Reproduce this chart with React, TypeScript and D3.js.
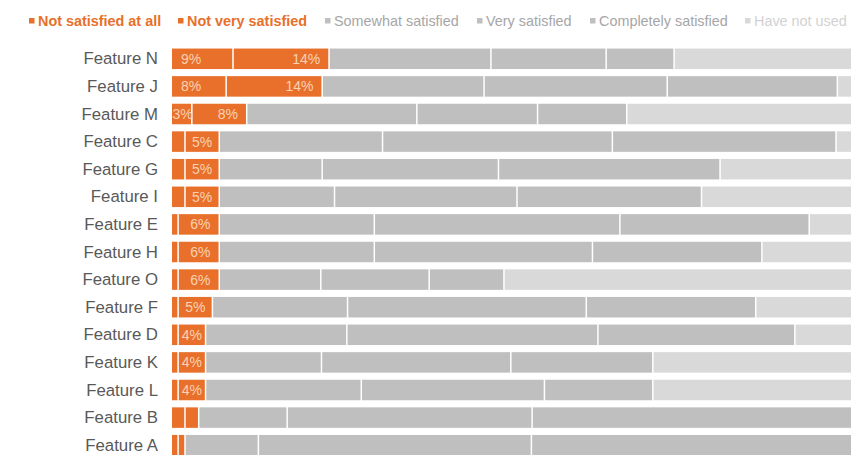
import React from "react";
import * as d3 from "d3";

const features = ["Feature N","Feature J","Feature M","Feature C","Feature G","Feature I","Feature E","Feature H","Feature O","Feature F","Feature D","Feature K","Feature L","Feature B","Feature A"];
const notAtAll = [9, 8, 3, 2, 2, 2, 1, 1, 1, 1, 1, 1, 1, 2, 1];
const notVery = [14, 14, 8, 5, 5, 5, 6, 6, 6, 5, 4, 4, 4, 2, 1];
const somewhat = [23.6, 23.6, 24.8, 23.8, 15.0, 16.8, 22.6, 22.6, 14.8, 19.7, 20.6, 16.9, 22.7, 12.9, 10.7];
const very = [16.8, 26.7, 17.6, 33.5, 25.7, 26.6, 35.8, 31.8, 15.8, 34.8, 36.6, 27.6, 26.7, 35.7, 39.8];
const completely = [9.9, 24.8, 13.0, 32.6, 32.3, 26.9, 27.6, 24.7, 10.9, 24.7, 28.7, 20.7, 15.8, 47.5, 47.5];
const notUsed = [26.8, 3.1, 33.7, 3.1, 20.0, 22.8, 7.0, 13.9, 51.5, 14.9, 9.0, 29.7, 29.7, 0, 0];

const seriesNames = ["Not satisfied at all", "Not very satisfied", "Somewhat satisfied", "Very satisfied", "Completely satisfied", "Have not used"];
const seriesValues = [notAtAll, notVery, somewhat, very, completely, notUsed];

const ORANGE = "#E8702A";
const seriesColors = [ORANGE, ORANGE, "#BFBFBF", "#BFBFBF", "#BFBFBF", "#D9D9D9"];
const legendTextColors = [ORANGE, ORANGE, "#A6A6A6", "#A6A6A6", "#A6A6A6", "#D2D2D2"];
const legendX = [29, 178, 325, 477, 590, 745];

const W = 851;
const H = 455;
const FONT = "'Liberation Sans', Arial, Helvetica, sans-serif";
const LABEL_FS = 14;

export default function App() {
  const x = d3.scaleLinear().domain([0, 100]).range([172, 858]);
  const y = d3.scaleBand<string>().domain(features).range([45, 45 + 15 * 27.6]).paddingInner(0.257).paddingOuter(0.1285);
  const bw = y.bandwidth();

  const rows = features.map((f, i) => {
    let acc = 0;
    const segs = seriesValues.map((vals, s) => {
      const v = vals[i];
      const seg = { s, v, x0: acc, x1: acc + v };
      acc += v;
      return seg;
    });
    return { f, segs };
  });

  const textW = (v: number) => (String(v).length * 0.556 + 0.889) * LABEL_FS;

  return (
    <div style={{ position: "absolute", left: 0, top: 0, width: W, height: H, background: "#fff" }}>
      <svg width={W} height={H} style={{ display: "block", fontFamily: FONT }}>
        <rect x={0} y={0} width={W} height={H} fill="#fff" />
        {/* legend */}
        {seriesNames.map((name, i) => (
          <g key={name} transform={`translate(${legendX[i]},0)`}>
            <rect x={0} y={18} width={5.5} height={5.5} fill={seriesColors[i]} />
            <text x={9} y={21} dominantBaseline="central" fontSize={14.4} fontWeight={i < 2 ? "bold" : "normal"} fill={legendTextColors[i]}>
              {name}
            </text>
          </g>
        ))}
        {/* bars */}
        {rows.map((r) => {
          const yy = y(r.f)!;
          return (
            <g key={r.f}>
              <text x={158} y={yy + bw / 2} textAnchor="end" dominantBaseline="central" fontSize={16.8} fill="#595959">
                {r.f}
              </text>
              {r.segs.filter((s) => s.v > 0).map((s) => {
                const x0 = x(s.x0);
                const x1 = x(s.x1);
                const w = Math.max(0, x1 - x0 - 1.5);
                return (
                  <rect key={s.s} x={x0} y={yy} width={w} height={bw} fill={seriesColors[s.s]} />
                );
              })}
              {r.segs.map((s) => {
                if (s.s === 0 && s.v >= 3) {
                  const x0 = x(s.x0);
                  const x1 = x(s.x1) - 1.5;
                  const pad = Math.max(0.5, Math.min(9, (x1 - x0 - textW(s.v)) / 2));
                  return (
                    <text key={"l" + s.s} x={x0 + pad} y={yy + bw / 2} dominantBaseline="central" fontSize={LABEL_FS} fill="#F9D2B4">
                      {s.v + "%"}
                    </text>
                  );
                }
                if (s.s === 1 && s.v >= 4) {
                  const x0 = x(s.x0);
                  const x1 = x(s.x1) - 1.5;
                  const pad = Math.max(1, Math.min(8, (x1 - x0 - textW(s.v)) / 2));
                  return (
                    <text key={"l" + s.s} x={x1 - pad} y={yy + bw / 2} textAnchor="end" dominantBaseline="central" fontSize={LABEL_FS} fill="#F9D2B4">
                      {s.v + "%"}
                    </text>
                  );
                }
                return null;
              })}
            </g>
          );
        })}
      </svg>
    </div>
  );
}
